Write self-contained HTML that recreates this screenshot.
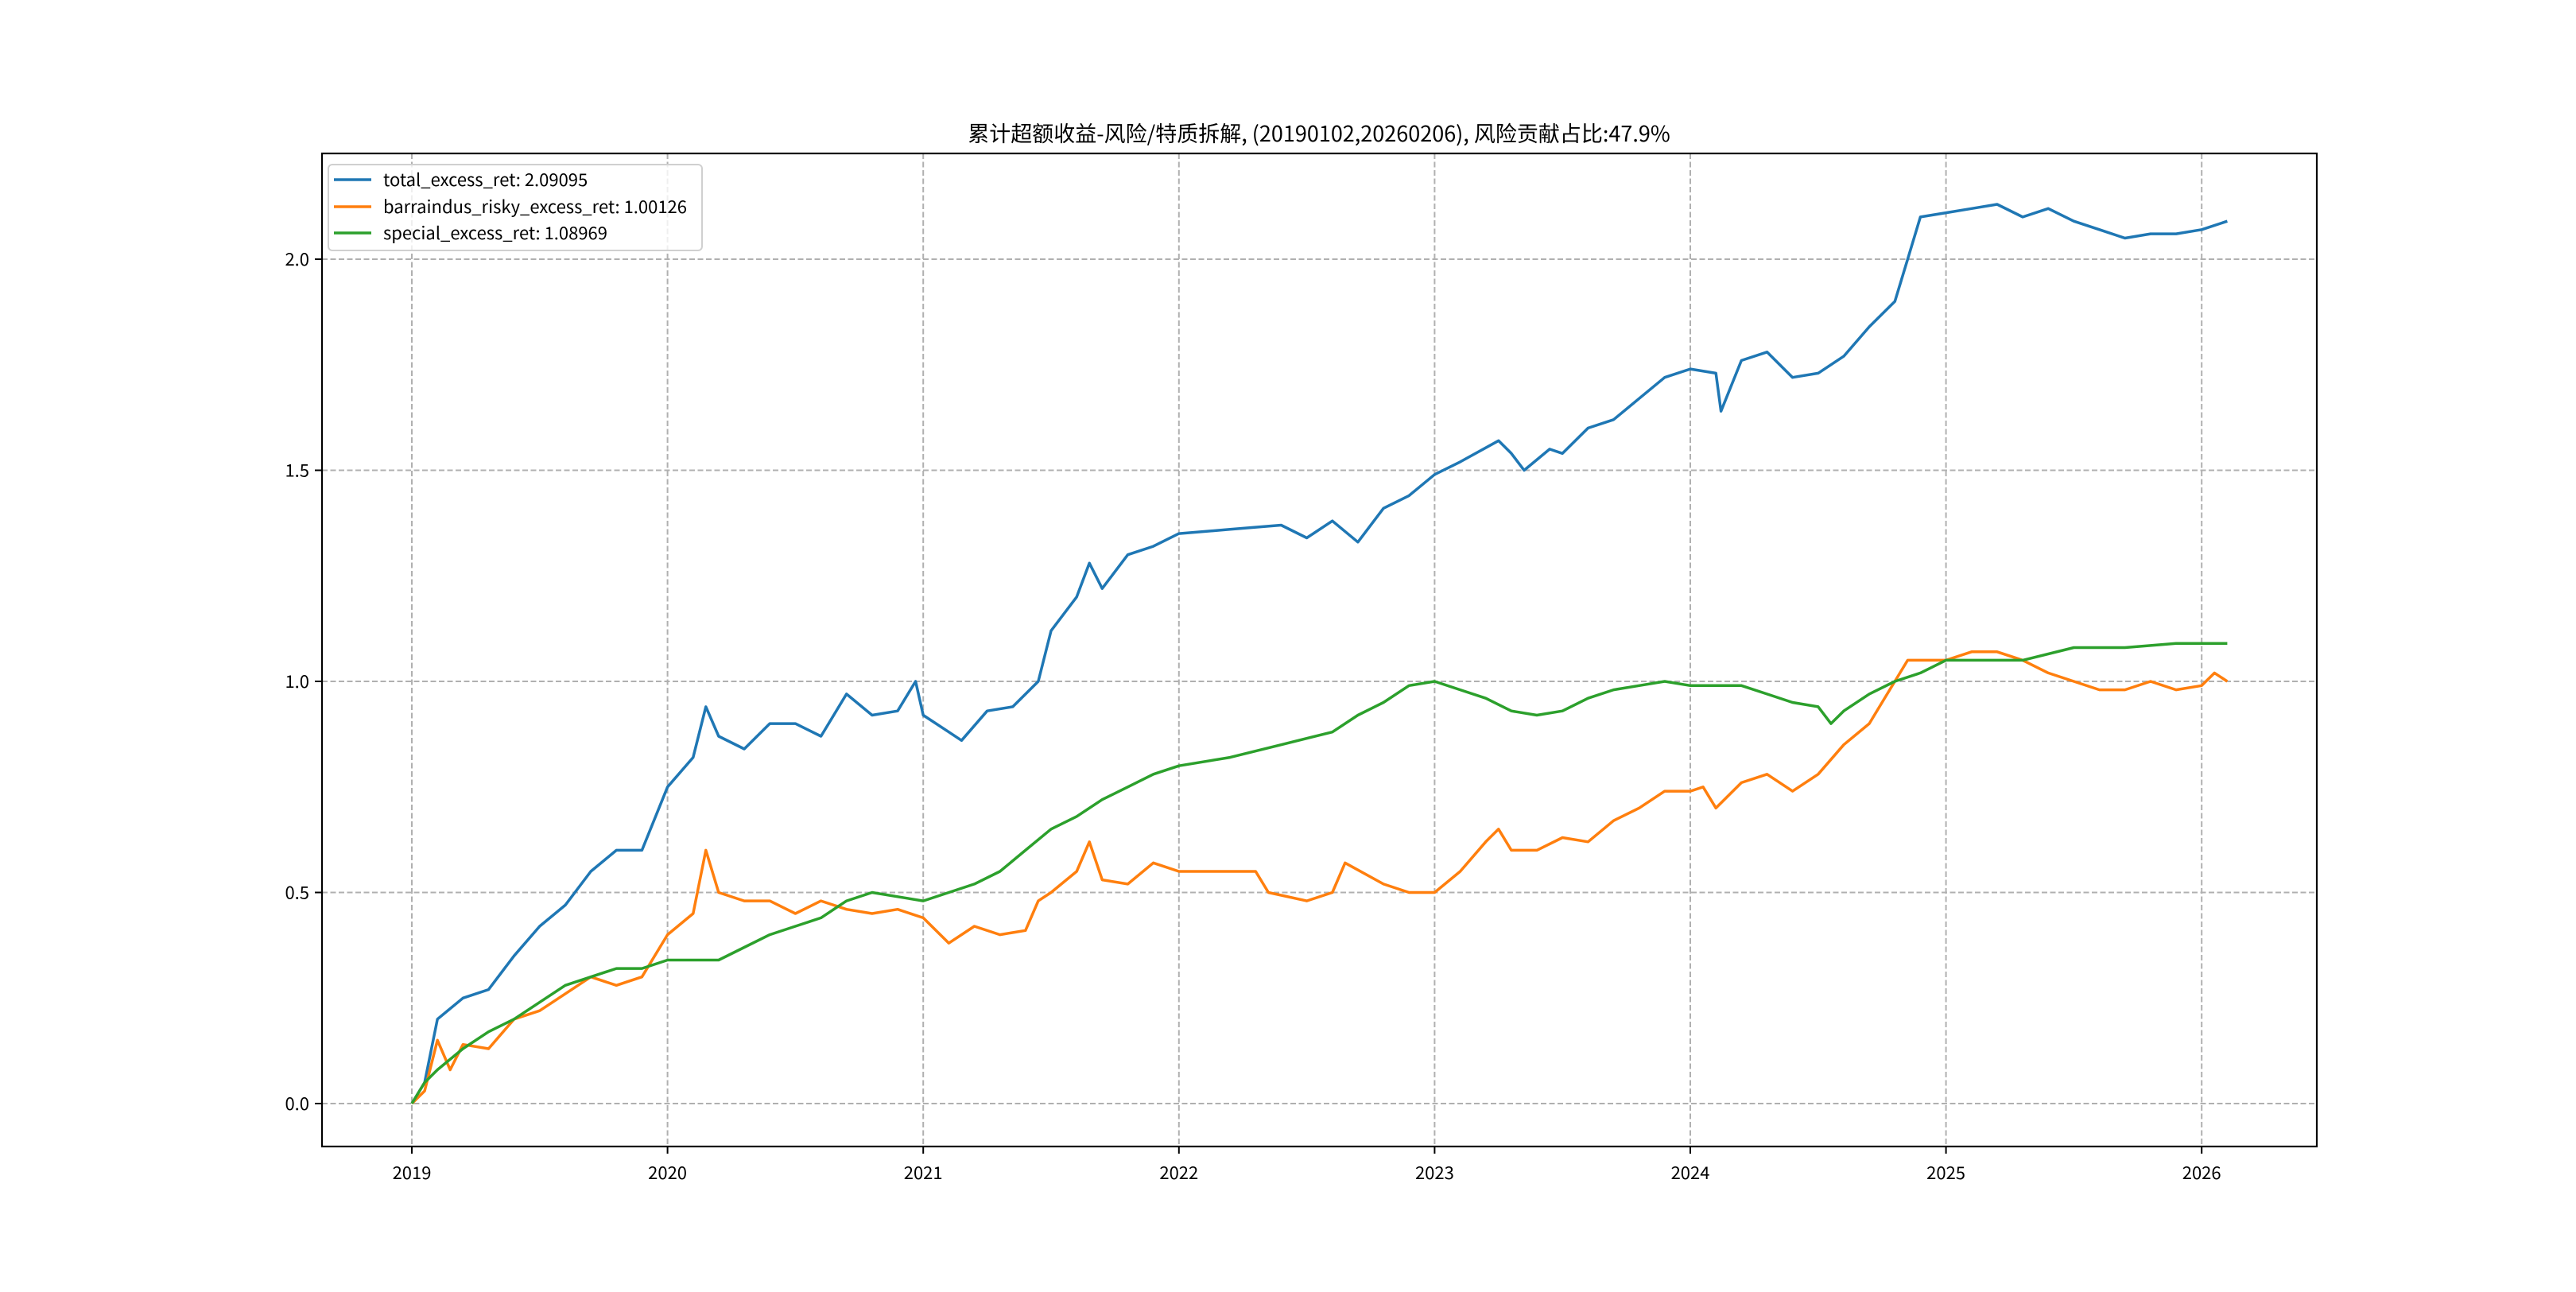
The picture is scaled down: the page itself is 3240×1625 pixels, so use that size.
<!DOCTYPE html>
<html><head><meta charset="utf-8"><style>
html,body{margin:0;padding:0;background:#fff;}
svg text{font-family:"WenQuanYi Zen Hei","Noto Sans CJK SC",sans-serif;}
</style></head><body>
<svg id="chart" width="3240" height="1620" xmlns="http://www.w3.org/2000/svg">
<rect width="3240" height="1620" fill="#fff"/>
<text x="1659" y="178" font-size="27" text-anchor="middle">累计超额收益-风险/特质拆解, (20190102,20260206), 风险贡献占比:47.9%</text>
<g id="grid"></g>
<g id="series"></g>
<rect x="405" y="193" width="2509" height="1249" fill="none" stroke="#000" stroke-width="2.2"/>
<g id="ticks"></g>
<g>
<rect x="413" y="207" width="470" height="108" rx="5" fill="#fff" fill-opacity="0.8" stroke="#d0d0d0" stroke-width="2"/>
<line x1="420" y1="226" x2="467" y2="226" stroke="#1f77b4" stroke-width="3.5"/>
<text x="482" y="234" font-size="22">total_excess_ret: 2.09095</text>
<line x1="420" y1="260" x2="467" y2="260" stroke="#ff7f0e" stroke-width="3.5"/>
<text x="482" y="268" font-size="22">barraindus_risky_excess_ret: 1.00126</text>
<line x1="420" y1="293" x2="467" y2="293" stroke="#2ca02c" stroke-width="3.5"/>
<text x="482" y="301" font-size="22">special_excess_ret: 1.08969</text>
</g>
</svg>
<script>
const xTicks = [2019,2020,2021,2022,2023,2024,2025,2026];
const yTicks = [0.0,0.5,1.0,1.5,2.0];
const yTickLabels = ["0.0","0.5","1.0","1.5","2.0"];
const totalT = [2019.0,2019.05,2019.1,2019.2,2019.3,2019.4,2019.5,2019.6,2019.7,2019.8,2019.9,2020.0,2020.1,2020.15,2020.2,2020.3,2020.4,2020.5,2020.6,2020.7,2020.8,2020.9,2020.97,2021.0,2021.1,2021.15,2021.25,2021.35,2021.45,2021.5,2021.6,2021.65,2021.7,2021.8,2021.9,2022.0,2022.2,2022.4,2022.5,2022.6,2022.7,2022.8,2022.9,2023.0,2023.1,2023.25,2023.3,2023.35,2023.45,2023.5,2023.6,2023.7,2023.8,2023.9,2024.0,2024.1,2024.12,2024.2,2024.3,2024.4,2024.5,2024.6,2024.7,2024.8,2024.85,2024.9,2025.0,2025.1,2025.2,2025.3,2025.4,2025.5,2025.6,2025.7,2025.8,2025.9,2026.0,2026.1];
const totalV = [0.0,0.05,0.2,0.25,0.27,0.35,0.42,0.47,0.55,0.6,0.6,0.75,0.82,0.94,0.87,0.84,0.9,0.9,0.87,0.97,0.92,0.93,1.0,0.92,0.88,0.86,0.93,0.94,1.0,1.12,1.2,1.28,1.22,1.3,1.32,1.35,1.36,1.37,1.34,1.38,1.33,1.41,1.44,1.49,1.52,1.57,1.54,1.5,1.55,1.54,1.6,1.62,1.67,1.72,1.74,1.73,1.64,1.76,1.78,1.72,1.73,1.77,1.84,1.9,2.0,2.1,2.11,2.12,2.13,2.1,2.12,2.09,2.07,2.05,2.06,2.06,2.07,2.09];
const riskyT = [2019.0,2019.05,2019.1,2019.15,2019.2,2019.3,2019.4,2019.5,2019.6,2019.7,2019.8,2019.9,2020.0,2020.1,2020.15,2020.2,2020.3,2020.4,2020.5,2020.6,2020.7,2020.8,2020.9,2021.0,2021.1,2021.2,2021.3,2021.4,2021.45,2021.5,2021.6,2021.65,2021.7,2021.8,2021.9,2022.0,2022.2,2022.3,2022.35,2022.5,2022.6,2022.65,2022.8,2022.9,2023.0,2023.1,2023.2,2023.25,2023.3,2023.4,2023.5,2023.6,2023.7,2023.8,2023.9,2024.0,2024.05,2024.1,2024.2,2024.3,2024.4,2024.5,2024.6,2024.7,2024.75,2024.85,2024.9,2025.0,2025.1,2025.2,2025.3,2025.4,2025.5,2025.6,2025.7,2025.8,2025.9,2026.0,2026.05,2026.1];
const riskyV = [0.0,0.03,0.15,0.08,0.14,0.13,0.2,0.22,0.26,0.3,0.28,0.3,0.4,0.45,0.6,0.5,0.48,0.48,0.45,0.48,0.46,0.45,0.46,0.44,0.38,0.42,0.4,0.41,0.48,0.5,0.55,0.62,0.53,0.52,0.57,0.55,0.55,0.55,0.5,0.48,0.5,0.57,0.52,0.5,0.5,0.55,0.62,0.65,0.6,0.6,0.63,0.62,0.67,0.7,0.74,0.74,0.75,0.7,0.76,0.78,0.74,0.78,0.85,0.9,0.95,1.05,1.05,1.05,1.07,1.07,1.05,1.02,1.0,0.98,0.98,1.0,0.98,0.99,1.02,1.0];
const specialT = [2019.0,2019.05,2019.1,2019.2,2019.3,2019.4,2019.5,2019.6,2019.7,2019.8,2019.9,2020.0,2020.1,2020.2,2020.3,2020.4,2020.5,2020.6,2020.7,2020.8,2020.9,2021.0,2021.1,2021.2,2021.3,2021.4,2021.5,2021.6,2021.7,2021.8,2021.9,2022.0,2022.2,2022.4,2022.6,2022.7,2022.8,2022.9,2023.0,2023.1,2023.2,2023.3,2023.4,2023.5,2023.6,2023.7,2023.8,2023.9,2024.0,2024.2,2024.3,2024.4,2024.5,2024.55,2024.6,2024.7,2024.8,2024.9,2025.0,2025.2,2025.3,2025.5,2025.7,2025.9,2026.0,2026.1];
const specialV = [0.0,0.05,0.08,0.13,0.17,0.2,0.24,0.28,0.3,0.32,0.32,0.34,0.34,0.34,0.37,0.4,0.42,0.44,0.48,0.5,0.49,0.48,0.5,0.52,0.55,0.6,0.65,0.68,0.72,0.75,0.78,0.8,0.82,0.85,0.88,0.92,0.95,0.99,1.0,0.98,0.96,0.93,0.92,0.93,0.96,0.98,0.99,1.0,0.99,0.99,0.97,0.95,0.94,0.9,0.93,0.97,1.0,1.02,1.05,1.05,1.05,1.08,1.08,1.09,1.09,1.09];

const NS="http://www.w3.org/2000/svg";
const L=405,R=2914,T=193,B=1442;
function xs(t){return 518+(t-2019)*321.6;}
function ys(v){return 1388-v*531;}
const grid=document.getElementById('grid'), ticks=document.getElementById('ticks'), series=document.getElementById('series');
function mk(tag,attrs,parent){const e=document.createElementNS(NS,tag);for(const k in attrs)e.setAttribute(k,attrs[k]);parent.appendChild(e);return e;}
xTicks.forEach(t=>{
  const g=mk('line',{x1:xs(t),x2:xs(t),y1:T,y2:B,stroke:'#b0b0b0','stroke-width':2,'stroke-dasharray':'7,3.5'},grid);
  
  
  const k=mk('line',{x1:xs(t),x2:xs(t),y1:B,y2:B+9,stroke:'#000','stroke-width':2},ticks);
  
  
  const tx=mk('text',{x:xs(t),y:B+41,'font-size':22,'text-anchor':'middle'},ticks);
  tx.textContent=String(t);
  
  
});
yTicks.forEach((v,i)=>{
  const g=mk('line',{x1:L,x2:R,y1:ys(v),y2:ys(v),stroke:'#b0b0b0','stroke-width':2,'stroke-dasharray':'7,3.5'},grid);
  
  
  const k=mk('line',{x1:L-9,x2:L,y1:ys(v),y2:ys(v),stroke:'#000','stroke-width':2},ticks);
  
  
  const tx=mk('text',{x:L-16,y:ys(v)+8,'font-size':22,'text-anchor':'end'},ticks);
  tx.textContent=yTickLabels[i];
  
  
});
function line(ts,vs,color,name){
  const d=ts.map((t,i)=>(i?'L':'M')+xs(t).toFixed(1)+','+ys(vs[i]).toFixed(1)).join('');
  const p=mk('path',{d:d,fill:'none',stroke:color,'stroke-width':3.5,'stroke-linejoin':'round'},series);
  
  
}
line(totalT,totalV,'#1f77b4','total-excess-line');
line(riskyT,riskyV,'#ff7f0e','risky-excess-line');
line(specialT,specialV,'#2ca02c','special-excess-line');
</script>
</body></html>
